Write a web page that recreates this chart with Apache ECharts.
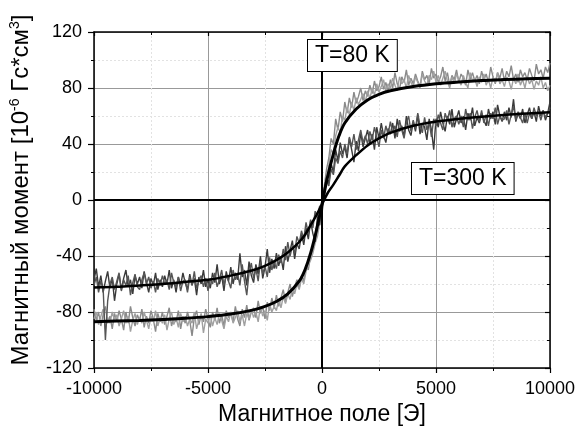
<!DOCTYPE html>
<html><head><meta charset="utf-8">
<script src="https://cdn.jsdelivr.net/npm/echarts@6/dist/echarts.min.js"></script>
<style>html,body{margin:0;padding:0;background:#fff}#c{width:580px;height:435px}</style>
</head><body><div id="c"></div>
<script>
const field = [
-10000,-9900,-9800,-9700,-9600,-9500,-9400,-9300,-9200,-9100,
-9000,-8900,-8800,-8700,-8600,-8500,-8400,-8300,-8200,-8100,
-8000,-7900,-7800,-7700,-7600,-7500,-7400,-7300,-7200,-7100,
-7000,-6900,-6800,-6700,-6600,-6500,-6400,-6300,-6200,-6100,
-6000,-5900,-5800,-5700,-5600,-5500,-5400,-5300,-5200,-5100,
-5000,-4900,-4800,-4700,-4600,-4500,-4400,-4300,-4200,-4100,
-4000,-3900,-3800,-3700,-3600,-3500,-3400,-3300,-3200,-3100,
-3000,-2900,-2800,-2700,-2600,-2500,-2400,-2300,-2200,-2100,
-2000,-1900,-1800,-1700,-1600,-1500,-1400,-1300,-1200,-1100,
-1000,-900,-800,-700,-600,-500,-400,-300,-200,-100,
0,100,200,300,400,500,600,700,800,900,
1000,1100,1200,1300,1400,1500,1600,1700,1800,1900,
2000,2100,2200,2300,2400,2500,2600,2700,2800,2900,
3000,3100,3200,3300,3400,3500,3600,3700,3800,3900,
4000,4100,4200,4300,4400,4500,4600,4700,4800,4900,
5000,5100,5200,5300,5400,5500,5600,5700,5800,5900,
6000,6100,6200,6300,6400,6500,6600,6700,6800,6900,
7000,7100,7200,7300,7400,7500,7600,7700,7800,7900,
8000,8100,8200,8300,8400,8500,8600,8700,8800,8900,
9000,9100,9200,9300,9400,9500,9600,9700,9800,9900,
10000];
const m80a = [
-78,-86,-80,-90,-82,-76,-88,-83,-92,-81,
-87,-79,-85,-93,-80,-88,-76,-84,-90,-82,
-86,-78,-91,-83,-88,-79,-85,-94,-81,-87,
-80,-89,-83,-77,-90,-84,-87,-79,-92,-83,
-88,-80,-86,-97,-84,-79,-89,-82,-87,-78,
-85,-91,-80,-86,-77,-88,-82,-90,-79,-84,
-81,-87,-76,-85,-90,-78,-84,-75,-86,-80,
-77,-84,-72,-81,-76,-85,-73,-79,-70,-77,
-68,-76,-70,-64,-73,-66,-60,-69,-62,-57,
-63,-54,-58,-47,-50,-40,-36,-28,-22,-12,
-4,10,22,30,44,40,58,50,63,56,
70,62,73,66,77,69,74,80,71,78,
74,82,76,85,78,81,88,79,84,77,
86,80,91,83,79,88,84,93,82,87,
83,90,85,81,92,86,89,83,94,87,
90,84,88,95,85,91,82,89,86,93,
84,90,87,82,93,86,91,85,89,83,
92,86,90,84,95,88,83,91,87,94,
85,92,88,96,86,90,84,93,88,91,
86,94,89,85,97,90,93,87,95,91,
98];
const m80b = [
-85,-80,-89,-83,-78,-92,-84,-88,-80,-86,
-82,-90,-85,-79,-88,-83,-94,-86,-81,-89,
-84,-88,-80,-86,-92,-83,-87,-79,-90,-84,
-88,-82,-93,-85,-80,-89,-84,-91,-81,-87,
-83,-90,-85,-88,-80,-92,-86,-81,-95,-85,
-88,-82,-90,-84,-89,-81,-86,-92,-83,-87,
-80,-88,-84,-79,-87,-82,-90,-81,-85,-78,
-84,-80,-87,-76,-83,-79,-86,-74,-80,-76,
-79,-71,-77,-69,-74,-67,-71,-63,-67,-60,
-64,-56,-60,-51,-46,-43,-38,-31,-26,-16,
-8,4,14,25,36,33,46,52,48,60,
57,66,61,70,64,73,68,72,76,70,
78,72,80,75,83,77,81,86,78,83,
80,87,82,78,88,83,86,80,89,84,
81,88,84,80,90,85,82,89,86,92,
84,89,82,87,92,85,80,88,83,90,
86,82,89,84,80,91,85,87,81,88,
84,90,82,86,80,88,84,91,83,86,
81,88,85,79,87,83,90,82,86,80,
88,83,86,79,85,82,88,80,84,78,
82];
const m300a = [
-57,-49,-62,-54,-66,-58,-51,-63,-56,-72,
-60,-53,-64,-56,-50,-62,-57,-67,-54,-60,
-55,-63,-51,-59,-66,-56,-61,-52,-64,-57,
-62,-54,-60,-50,-63,-57,-66,-55,-61,-52,
-59,-64,-53,-61,-56,-68,-55,-60,-50,-62,
-57,-63,-52,-59,-46,-60,-54,-65,-51,-58,
-48,-60,-52,-57,-38,-55,-50,-61,-44,-54,
-59,-46,-53,-40,-56,-48,-35,-52,-42,-49,
-38,-47,-41,-50,-33,-44,-36,-29,-42,-31,
-35,-24,-32,-20,-28,-15,-24,-30,-12,-18,
0,8,16,12,26,20,36,28,41,33,
38,30,44,36,27,42,35,48,38,44,
50,40,47,36,52,44,55,46,41,51,
47,55,44,58,49,53,45,60,50,46,
56,49,61,47,55,52,43,58,50,36,
58,52,63,55,49,60,54,65,52,58,
64,55,60,50,62,57,66,53,59,55,
62,57,53,65,58,63,54,68,60,56,
63,57,66,59,72,56,62,58,65,55,
61,66,58,63,56,67,60,64,57,62,
70];
const m300b = [
-61,-55,-66,-58,-63,-100,-72,-60,-55,-64,
-58,-52,-65,-57,-61,-54,-68,-59,-53,-62,
-64,-57,-52,-60,-55,-63,-58,-66,-56,-61,
-54,-60,-57,-64,-52,-59,-62,-55,-65,-58,
-57,-66,-55,-61,-51,-63,-58,-54,-62,-56,
-65,-56,-60,-52,-62,-57,-50,-61,-54,-58,
-63,-50,-57,-53,-61,-46,-58,-68,-52,-45,
-56,-49,-58,-44,-53,-47,-55,-41,-50,-44,
-49,-39,-45,-35,-43,-30,-40,-33,-38,-26,
-31,-22,-28,-16,-24,-14,-20,-8,-12,-4,
-10,6,14,10,22,18,30,26,35,30,
40,33,45,38,47,36,43,50,41,46,
40,49,43,52,45,38,50,44,53,47,
56,48,53,45,57,50,44,55,60,49,
57,51,62,53,48,59,50,56,45,58,
53,61,55,50,62,57,64,52,58,60,
54,60,52,65,57,62,51,59,64,56,
64,55,61,53,62,58,66,54,60,57,
58,64,54,61,67,57,63,59,55,62,
55,62,58,66,60,63,57,64,59,62,
66];
const fitField = [-10000,-9000,-8000,-7000,-6000,-5000,-4000,-3000,-2500,-2000,-1500,-1000,-750,-500,-250,0,250,500,750,1000,1500,2000,2500,3000,4000,5000,6000,7000,8000,9000,10000];
const fit80 = [-87,-86.5,-86,-85.3,-84.5,-83.3,-81.5,-78.5,-76,-72.5,-67,-58,-50,-38,-22,-3,17,33,46,55,65,71.5,75.5,78,81,83,84.3,85.3,86,86.6,87];
const fit300 = [-62.5,-62,-61,-60,-58.5,-57,-54,-50,-47,-43,-37.5,-30,-25,-18,-11,-3,5,11,17.5,24,32,39,44,48,53,56,58,59.5,60.8,61.8,62.6];
const xTicks = {min:-10000, max:10000, interval:5000};
const yTicks = {min:-120, max:120, interval:40};
const labels = ['T=80 K','T=300 K'];
const xTitle = 'Магнитное поле [Э]';
const yTitle = 'Магнитный момент [10{sup|-6} Гс*см{sup|3}]';

const zip = (xs, ys) => xs.map((x, i) => [x, ys[i]]);
const font = 'Liberation Sans, Arial, sans-serif';
const chart = echarts.init(document.getElementById('c'), null, {renderer:'canvas'});
const noisy = (d, c) => ({type:'line', data:d, showSymbol:false, symbol:'none', lineStyle:{color:c, width:1.4}, z:2, silent:true, animation:false});
chart.setOption({
  animation:false,
  backgroundColor:'#fff',
  grid:{left:94, right:30, top:32, bottom:67, containLabel:false, outerBoundsMode:'none'},
  xAxis:[{
    type:'value', min:xTicks.min, max:xTicks.max, interval:xTicks.interval, position:'bottom',
    name:xTitle, nameLocation:'middle', nameGap:29,
    nameTextStyle:{fontFamily:font, fontSize:23, color:'#000', verticalAlign:'top'},
    axisLine:{show:true, onZero:false, lineStyle:{color:'#000', width:1.5}},
    axisTick:{show:true, inside:false, length:5, lineStyle:{color:'#000', width:1.2}},
    minorTick:{show:true, splitNumber:2, length:3, lineStyle:{color:'#000', width:1}},
    axisLabel:{fontFamily:font, fontSize:18, color:'#000', margin:12, formatter:(v)=>String(v)},
    splitLine:{show:true, lineStyle:{color:'#999', width:1}},
    minorSplitLine:{show:true, lineStyle:{color:'#e2e2e2', width:1, type:[2,2]}}
  },{
    type:'value', min:xTicks.min, max:xTicks.max, interval:xTicks.interval, position:'top',
    axisLine:{show:true, onZero:false, lineStyle:{color:'#000', width:1.5}},
    axisTick:{show:true, inside:true, length:4, lineStyle:{color:'#000', width:1.2}},
    minorTick:{show:true, splitNumber:2, length:3, lineStyle:{color:'#000', width:1}},
    axisLabel:{show:false}, splitLine:{show:false}
  }],
  yAxis:[{
    type:'value', min:yTicks.min, max:yTicks.max, interval:yTicks.interval, position:'left',
    name:yTitle, nameLocation:'middle', nameGap:44, nameRotate:90,
    nameTextStyle:{fontFamily:font, fontSize:24, color:'#000', lineHeight:27, padding:[0,0,0,20],
      rich:{sup:{fontFamily:font, fontSize:14, color:'#000', verticalAlign:'top', lineHeight:27, padding:[0,0,11,0]}}},
    axisLine:{show:true, onZero:false, lineStyle:{color:'#000', width:1.5}},
    axisTick:{show:true, inside:false, length:6, lineStyle:{color:'#000', width:1.2}},
    minorTick:{show:true, splitNumber:2, length:3, lineStyle:{color:'#000', width:1}},
    axisLabel:{fontFamily:font, fontSize:18, color:'#000', margin:12},
    splitLine:{show:true, lineStyle:{color:'#999', width:1}},
    minorSplitLine:{show:true, lineStyle:{color:'#e2e2e2', width:1, type:[2,2]}}
  },{
    type:'value', min:yTicks.min, max:yTicks.max, interval:yTicks.interval, position:'right',
    axisLine:{show:true, onZero:false, lineStyle:{color:'#000', width:1.5}},
    axisTick:{show:true, inside:true, length:5, lineStyle:{color:'#000', width:1.2}},
    minorTick:{show:true, splitNumber:2, length:3, lineStyle:{color:'#000', width:1}},
    axisLabel:{show:false}, splitLine:{show:false}
  }],
  series:[
    Object.assign(noisy(zip(field, m80a), '#8a8a8a'), {
      markLine:{silent:true, symbol:'none', label:{show:false}, animation:false,
        lineStyle:{color:'#000', width:2, type:'solid'},
        data:[{yAxis:0},{xAxis:0}]}
    }),
    noisy(zip(field, m80b), '#a0a0a0'),
    noisy(zip(field, m300a), '#3a3a3a'),
    noisy(zip(field, m300b), '#555555'),
    {type:'line', data:zip(fitField, fit80), smooth:0.35, showSymbol:false, symbol:'none', lineStyle:{color:'#000', width:3}, z:5, silent:true},
    {type:'line', data:zip(fitField, fit300), smooth:0.35, showSymbol:false, symbol:'none', lineStyle:{color:'#000', width:2.5}, z:5, silent:true}
  ],
  graphic:[
    {type:'text', left:307, top:39, z:100, style:{text:labels[0], font:'23px '+font, fill:'#000', backgroundColor:'#fff', borderColor:'#000', borderWidth:1, padding:[4,7,4,7]}},
    {type:'text', left:411, top:162, z:100, style:{text:labels[1], font:'23px '+font, fill:'#000', backgroundColor:'#fff', borderColor:'#000', borderWidth:1, padding:[4,7,4,7]}}
  ]
});
</script></body></html>
